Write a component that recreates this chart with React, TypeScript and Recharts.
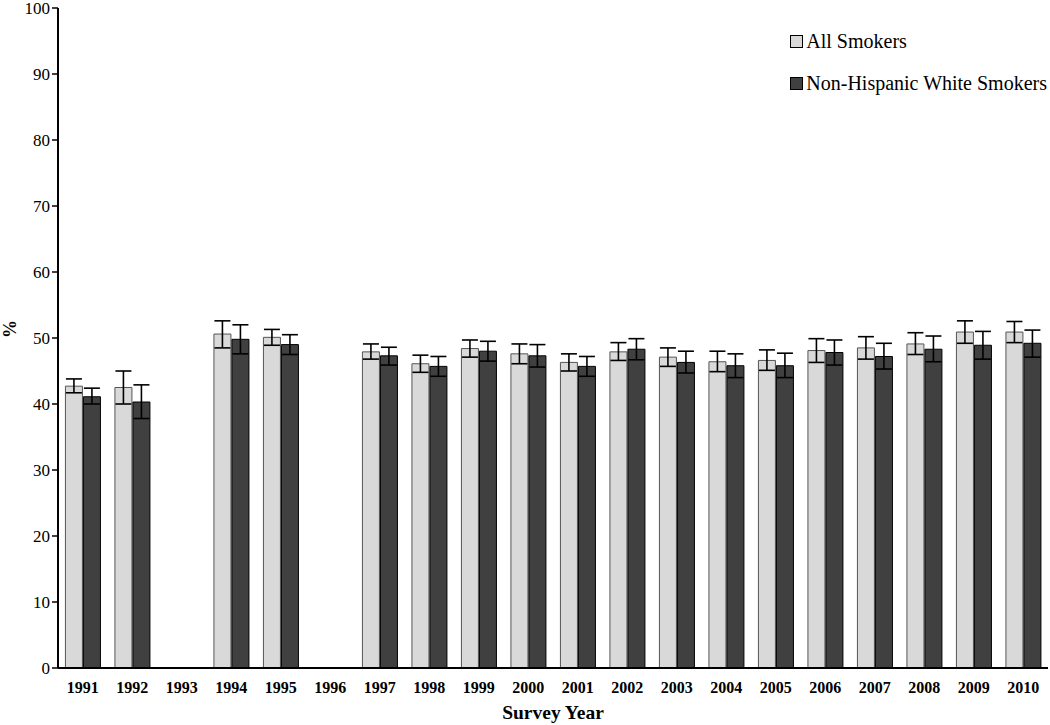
import { BarChart, Bar, XAxis, YAxis, ErrorBar, Legend } from 'recharts'

const years = ['1991', '1992', '1993', '1994', '1995', '1996', '1997', '1998', '1999', '2000',
  '2001', '2002', '2003', '2004', '2005', '2006', '2007', '2008', '2009', '2010']

// null = no survey that year
const allSmokers = [42.7, 42.5, null, 50.6, 50.1, null, 47.9, 46.1, 48.4, 47.6,
  46.3, 47.9, 47.1, 46.4, 46.6, 48.1, 48.5, 49.1, 50.9, 50.9]
const allLow = [41.7, 40.0, null, 48.5, 48.9, null, 46.8, 44.8, 47.1, 46.1,
  45.0, 46.6, 45.7, 44.9, 45.1, 46.3, 46.8, 47.5, 49.2, 49.3]
const allHigh = [43.8, 45.0, null, 52.6, 51.3, null, 49.1, 47.4, 49.7, 49.1,
  47.6, 49.3, 48.5, 48.0, 48.2, 49.9, 50.2, 50.8, 52.6, 52.5]

const nhwSmokers = [41.1, 40.3, null, 49.8, 49.0, null, 47.3, 45.7, 48.0, 47.3,
  45.7, 48.3, 46.3, 45.8, 45.8, 47.8, 47.2, 48.3, 48.9, 49.2]
const nhwLow = [40.0, 37.8, null, 47.6, 47.5, null, 45.9, 44.2, 46.5, 45.6,
  44.2, 46.7, 44.7, 44.0, 44.0, 45.9, 45.3, 46.4, 46.8, 47.1]
const nhwHigh = [42.4, 42.9, null, 52.0, 50.5, null, 48.6, 47.2, 49.5, 49.0,
  47.2, 49.9, 48.0, 47.6, 47.7, 49.7, 49.2, 50.3, 51.0, 51.2]

const yTicks = [0, 10, 20, 30, 40, 50, 60, 70, 80, 90, 100]

const LIGHT = '#d9d9d9'
const DARK = '#404040'
const FONT = '"Liberation Serif", "Times New Roman", serif'

const data = years.map((year, i) => ({
  year,
  all: allSmokers[i],
  allErr: allSmokers[i] == null ? null : [allSmokers[i]! - allLow[i]!, allHigh[i]! - allSmokers[i]!],
  nhw: nhwSmokers[i],
  nhwErr: nhwSmokers[i] == null ? null : [nhwSmokers[i]! - nhwLow[i]!, nhwHigh[i]! - nhwSmokers[i]!],
}))

function LegendBox() {
  const items = [
    { label: 'All Smokers', fill: LIGHT },
    { label: 'Non-Hispanic White Smokers', fill: DARK },
  ]
  return (
    <div style={{ fontFamily: FONT, fontSize: 20, color: '#000' }}>
      {items.map((it) => (
        <div key={it.label} style={{ display: 'flex', alignItems: 'center', height: 42 }}>
          <span style={{ width: 11, height: 11, background: it.fill, border: '1px solid #000', marginRight: 3, display: 'inline-block' }} />
          <span>{it.label}</span>
        </div>
      ))}
    </div>
  )
}

export default function App() {
  return (
    <div style={{ position: 'absolute', left: 0, top: 0, width: 1050, height: 725, background: '#fff' }}>
      <BarChart width={1050} height={725} data={data} margin={{ top: 8, right: 2, bottom: 30, left: 18 }}
        barCategoryGap="15%" barGap={1}>
        <XAxis dataKey="year" axisLine={{ stroke: '#000', strokeWidth: 2 }} tickLine={false} tickMargin={8}
          tick={{ fontFamily: FONT, fontSize: 16, fontWeight: 'bold', fill: '#000' }} height={27}
          label={{ value: 'Survey Year', position: 'insideBottom', offset: -24, style: { fontFamily: FONT, fontSize: 19.5, fontWeight: 'bold', fill: '#000' } }} />
        <YAxis domain={[0, 100]} ticks={yTicks} width={40} interval={0}
          axisLine={{ stroke: '#000', strokeWidth: 2 }} tickLine={{ stroke: '#000', strokeWidth: 1.5 }} tickSize={6}
          tick={{ fontFamily: FONT, fontSize: 17, fill: '#000' }}
          label={{ value: '%', angle: -90, position: 'insideLeft', offset: -8, style: { fontFamily: FONT, fontSize: 18, fontWeight: 'bold', fill: '#000' } }} />
        <Legend layout="horizontal" align="center" verticalAlign="middle" content={<LegendBox />}
          wrapperStyle={{ position: 'absolute', top: 20, right: 3, left: 'auto', bottom: 'auto', width: 'auto' }} />
        <Bar dataKey="all" name="All Smokers" fill={LIGHT} stroke="#555" strokeWidth={1} isAnimationActive={false}>
          <ErrorBar dataKey="allErr" direction="y" width={8} stroke="#000" strokeWidth={1.6} isAnimationActive={false} />
        </Bar>
        <Bar dataKey="nhw" name="Non-Hispanic White Smokers" fill={DARK} stroke="#000" strokeWidth={1} isAnimationActive={false}>
          <ErrorBar dataKey="nhwErr" direction="y" width={8} stroke="#000" strokeWidth={1.6} isAnimationActive={false} />
        </Bar>
      </BarChart>
    </div>
  )
}
